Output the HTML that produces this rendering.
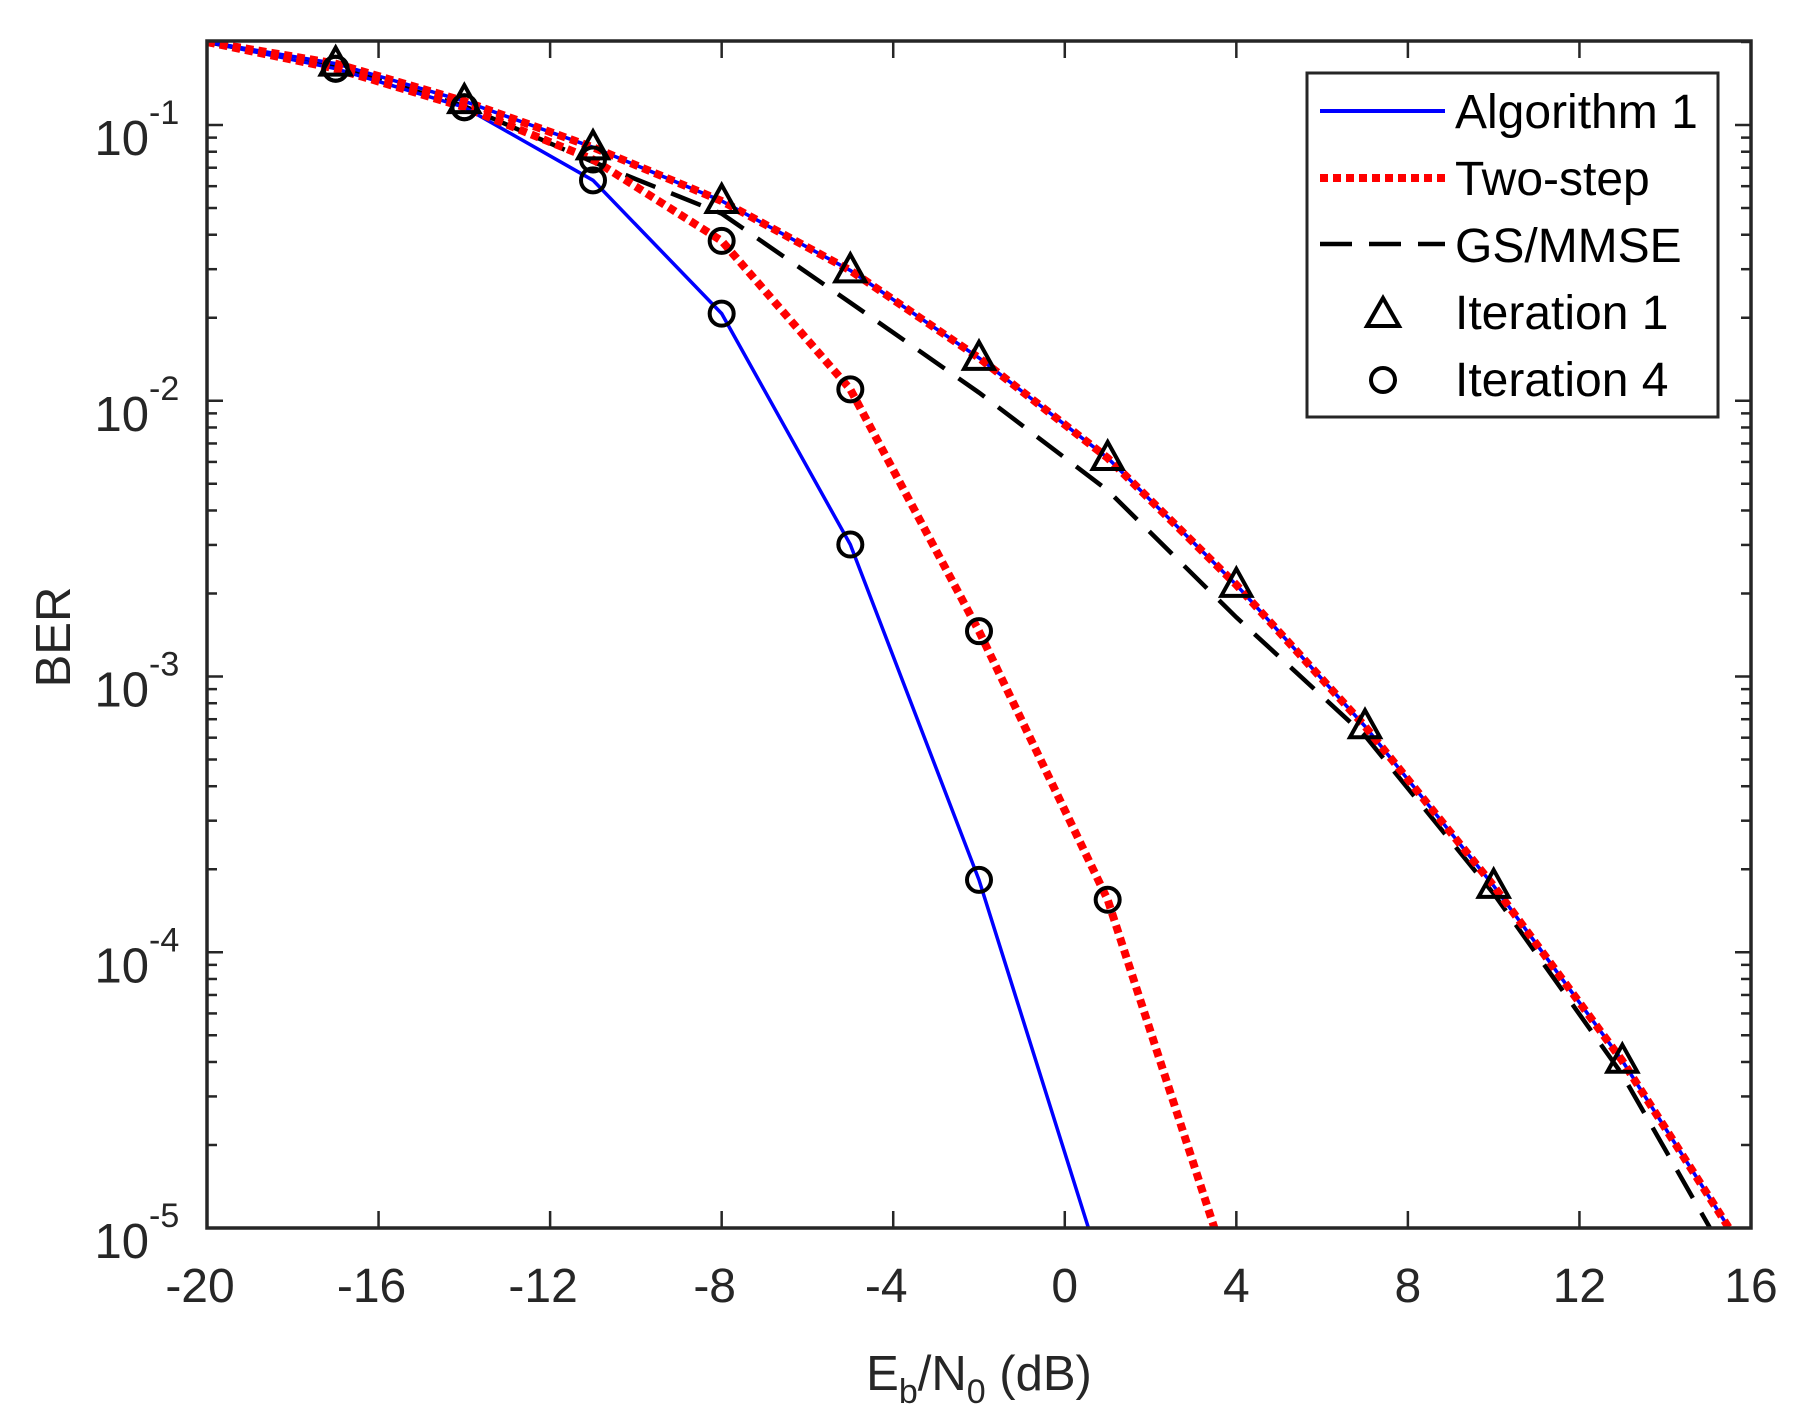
<!DOCTYPE html>
<html><head><meta charset="utf-8"><style>
html,body{margin:0;padding:0;background:#fff;}
svg{display:block;font-family:"Liberation Sans",Arial,sans-serif;}
</style></head><body>
<svg id="chart" width="1807" height="1413" viewBox="0 0 1807 1413">
<defs><clipPath id="plotclip"><rect x="207" y="41" width="1544" height="1187"/></clipPath></defs>
<rect x="0" y="0" width="1807" height="1413" fill="#fff"/>
<g id="ticks"></g>
<g id="series" clip-path="url(#plotclip)"></g>
<rect x="207" y="41" width="1544" height="1187" fill="none" stroke="#262626" stroke-width="3.5"/>
<g id="labels"></g>
<text x="979" y="1390" text-anchor="middle" font-size="49" fill="#262626">E<tspan font-size="34" dy="13">b</tspan><tspan dy="-13">/N</tspan><tspan font-size="34" dy="13">0</tspan><tspan dy="-13"> (dB)</tspan></text>
<text transform="translate(70,637) rotate(-90)" text-anchor="middle" font-size="49" fill="#262626">BER</text>
<g>
<rect x="1307" y="73" width="411" height="344" fill="#fff" stroke="#262626" stroke-width="3"/>
<line x1="1320" y1="111" x2="1445" y2="111" stroke="#0000ff" stroke-width="4"/>
<text x="1455" y="128" font-size="48">Algorithm 1</text>
<line x1="1320" y1="178" x2="1445" y2="178" stroke="#ff0000" stroke-width="8" stroke-dasharray="8 5"/>
<text x="1455" y="195" font-size="48">Two-step</text>
<line x1="1320" y1="244" x2="1445" y2="244" stroke="#000" stroke-width="4.5" stroke-dasharray="32 17"/>
<text x="1455" y="262" font-size="48">GS/MMSE</text>
<path d="M1383,298 L1399,326 L1367,326 Z" fill="none" stroke="#000" stroke-width="4"/>
<text x="1455" y="329" font-size="48">Iteration 1</text>
<circle cx="1383" cy="380" r="12" fill="none" stroke="#000" stroke-width="4"/>
<text x="1455" y="396" font-size="48">Iteration 4</text>
</g>
</svg>
<script>
const xTicks = [-20,-16,-12,-8,-4,0,4,8,12,16];
const yDecades = [-1,-2,-3,-4,-5];
const alg1It1X = [-20,-17,-14,-11,-8,-5,-2,1,4,7,10,13,16];
const alg1It1Y = [0.2,0.167,0.122,0.083,0.053,0.0297,0.0143,0.0062,0.00215,6.6e-4,1.74e-4,4.04e-5,7.5e-6];
const twoIt1Y  = [0.2,0.167,0.122,0.083,0.053,0.0297,0.0143,0.0062,0.00215,6.6e-4,1.74e-4,4.04e-5,7.5e-6];
const alg1It4X = [-20,-17,-14,-11,-8,-5,-2,1];
const alg1It4Y = [0.2,0.16,0.116,0.063,0.0207,0.00301,1.83e-4,6e-6];
const twoIt4X  = [-20,-17,-14,-11,-8,-5,-2,1,4];
const twoIt4Y  = [0.2,0.16,0.116,0.075,0.038,0.011,0.00146,1.55e-4,5.7e-6];
const gsX = [-20,-17,-14,-11,-8,-5,-2,1,4,7,10,13,16];
const gsY = [0.2,0.163,0.117,0.0735,0.0477,0.0227,0.0107,0.00473,0.00164,6.1e-4,1.63e-4,3.6e-5,5.5e-6];
const markerX = [-17,-14,-11,-8,-5,-2,1,4,7,10,13];

const NS='http://www.w3.org/2000/svg';
const L=207,R=1751,T=41,B=1228;
const xs=v=>L+(v+20)*(R-L)/36;
const ys=v=>125+(-1-Math.log10(v))*275.75;
const ticks=document.getElementById('ticks'),ser=document.getElementById('series'),lab=document.getElementById('labels');
function mk(tag,attrs,parent){const e=document.createElementNS(NS,tag);for(const k in attrs)e.setAttribute(k,attrs[k]);parent.appendChild(e);return e;}
xTicks.forEach(v=>{
  const x=xs(v);
  const t1=mk('line',{x1:x,y1:B,x2:x,y2:B-17,stroke:'#262626','stroke-width':2.5},ticks);
  
  
  const t2=mk('line',{x1:x,y1:T,x2:x,y2:T+17,stroke:'#262626','stroke-width':2.5},ticks);
  
  
  const tx=mk('text',{x:x-(v<0?7:0),y:1302,'text-anchor':'middle','font-size':48,fill:'#262626'},lab);
  tx.textContent=String(v);
  
  
});
yDecades.forEach(d=>{
  for(let m=1;m<10;m++){
    const y=ys(m*Math.pow(10,d));
    if(y<T)continue;
    const len=m===1?16:10;
    const a=mk('line',{x1:L,y1:y,x2:L+len,y2:y,stroke:'#262626','stroke-width':2.5},ticks);
    
    
    const b=mk('line',{x1:R,y1:y,x2:R-len,y2:y,stroke:'#262626','stroke-width':2.5},ticks);
    
    
  }
  const y=ys(Math.pow(10,d));
  const t=mk('text',{x:149,y:y+30,'text-anchor':'end','font-size':49,fill:'#262626'},lab);
  t.textContent='10';
  
  
  const e=mk('text',{x:149,y:y-1,'text-anchor':'start','font-size':34,fill:'#262626'},lab);
  e.textContent=String(d);
  
  
});
function line(X,Y,attrs,name){
  const d=X.map((x,i)=>(i?'L':'M')+xs(x).toFixed(1)+','+ys(Y[i]).toFixed(1)).join(' ');
  const p=mk('path',Object.assign({d:d,fill:'none'},attrs),ser);
  
  
}
line(gsX,gsY,{stroke:'#000','stroke-width':4.5,'stroke-dasharray':'32 17'},'gs-mmse-line');
line(alg1It1X,alg1It1Y,{stroke:'#0000ff','stroke-width':3.5},'algorithm1-iteration1-line');
line(alg1It4X,alg1It4Y,{stroke:'#0000ff','stroke-width':3.5},'algorithm1-iteration4-line');
line(alg1It1X,twoIt1Y,{stroke:'#ff0000','stroke-width':8,'stroke-dasharray':'8 5'},'two-step-iteration1-line');
line(twoIt4X,twoIt4Y,{stroke:'#ff0000','stroke-width':8,'stroke-dasharray':'8 5'},'two-step-iteration4-line');
function valAt(X,Y,x){const i=X.indexOf(x);return i<0?null:Y[i];}
markerX.forEach(x=>{
  const v=valAt(alg1It1X,alg1It1Y,x);
  if(v){const cx=xs(x),cy=ys(v);
    const p=mk('path',{d:`M${cx},${cy-16} L${cx+15},${cy+11} L${cx-15},${cy+11} Z`,fill:'none',stroke:'#000','stroke-width':4},ser);
    
    }
  [[alg1It4X,alg1It4Y],[twoIt4X,twoIt4Y]].forEach(s=>{
    const w=valAt(s[0],s[1],x);
    if(w){const c=mk('circle',{cx:xs(x),cy:ys(w),r:12,fill:'none',stroke:'#000','stroke-width':4},ser);
      
      }
  });
});
</script>
</body></html>
